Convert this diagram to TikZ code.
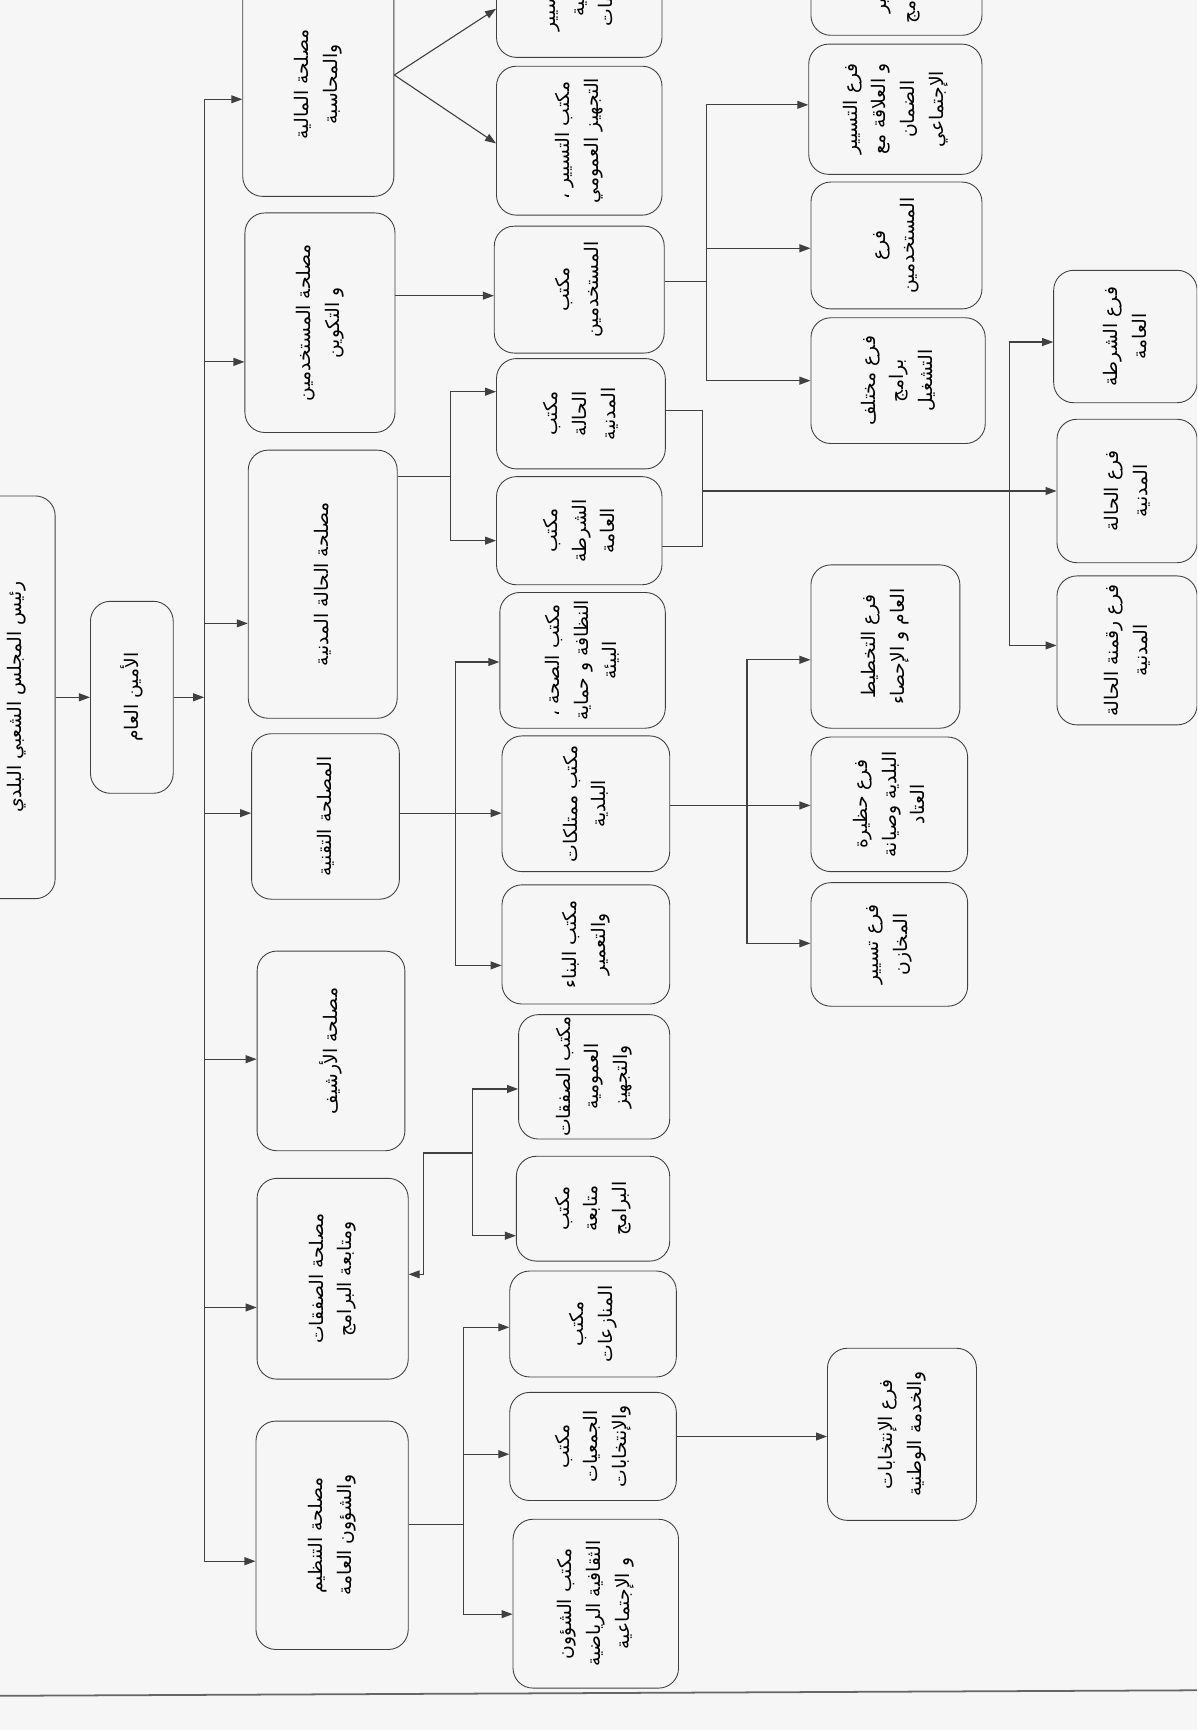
\documentclass[tikz,border=0pt]{standalone}
\usepackage{fontspec}
\newfontfamily\arabicfont[Script=Arabic]{DejaVu Sans}
\TeXXeTstate=1
\usetikzlibrary{arrows.meta}
\newcommand{\artxt}[1]{\beginR #1\endR}

\begin{document}
\begin{tikzpicture}[x=0.5pt, y=-0.5pt,
    box/.style 2 args={draw=black!75, rounded corners=9pt, rotate=90, align=center,
        minimum width=#2*0.5pt, minimum height=#1*0.5pt, inner sep=1pt,
        font=\arabicfont\fontsize{8.5}{13}\selectfont},
    link/.style={draw=black!75, line width=0.5pt},
    arr/.style={link, -{Triangle[length=5pt, width=3.6pt]}}
]
\useasboundingbox (0,0) rectangle (1085,1568);
\clip (0,0) rectangle (1085,1568);
\fill[gray!7] (0,0) rectangle (1085,1568);

% Head
\node[box={70}{365}] (chief) at (15,632) {\artxt{رئيس المجلس الشعبي البلدي}};
\node[box={75}{174}] (sg) at (119.5,632) {\artxt{الأمين العام}};
\coordinate (busTop) at (185,90);
\coordinate (busBot) at (185,1415);
\draw[arr] (chief.south) -- (chief.south -| sg.north);
\draw[arr] (sg.south) -- (sg.south -| busTop);
\draw[link] (busTop) -- (busBot);

% Services
\node[box={137}{203}] (srvFin) at (288.5,76.5) {\artxt{مصلحة المالية}\\\artxt{والمحاسبة}};
\node[box={136}{199}] (srvPers) at (290,292.5) {\artxt{مصلحة المستخدمين}\\\artxt{و التكوين}};
\node[box={135}{243}] (srvCiv) at (292.5,529.5) {\artxt{مصلحة الحالة المدنية}};
\node[box={134}{150}] (srvTech) at (295,740) {\artxt{المصلحة التقنية}};
\node[box={134}{181}] (srvArch) at (300,952.5) {\artxt{مصلحة الأرشيف}};
\node[box={137}{182}] (srvDeals) at (301.5,1159) {\artxt{مصلحة الصفقات}\\\artxt{ومتابعة البرامج}};
\node[box={138}{207}] (srvOrg) at (301,1391.5) {\artxt{مصلحة التنظيم}\\\artxt{والشؤون العامة}};

\draw[arr] (busTop |- 0,90) -- (srvFin.north |- 0,90);
\draw[arr] (busTop |- 0,328) -- (srvPers.north |- 0,328);
\draw[arr] (busTop |- 0,565) -- (srvCiv.north |- 0,565);
\draw[arr] (busTop |- 0,737) -- (srvTech.north |- 0,737);
\draw[arr] (busTop |- 0,960) -- (srvArch.north |- 0,960);
\draw[arr] (busTop |- 0,1185) -- (srvDeals.north |- 0,1185);
\draw[arr] (busTop |- 0,1415) -- (srvOrg.north |- 0,1415);

% Offices
\node[box={150}{132}] (offTop) at (525,-14) {\artxt{مكتب تسيير}\\\artxt{الميزانية}\\\artxt{والحسابات}};
\node[box={150}{135}] (offEquip) at (525,127.5) {\artxt{مكتب التسيير ،}\\\artxt{التجهيز العمومي}};
\node[box={154}{115}] (offPers) at (525,262.5) {\artxt{مكتب}\\\artxt{المستخدمين}};
\node[box={153}{100}] (offCiv) at (526.5,375) {\artxt{مكتب}\\\artxt{الحالة}\\\artxt{المدنية}};
\node[box={150}{98}] (offPol) at (525,481) {\artxt{مكتب}\\\artxt{الشرطة}\\\artxt{العامة}};
\node[box={150}{123}] (offHealth) at (528,598.5) {\artxt{مكتب الصحة ،}\\\artxt{النظافة و حماية}\\\artxt{البيئة}};
\node[box={152}{123}] (offProp) at (531,728.5) {\artxt{مكتب ممتلكات}\\\artxt{البلدية}};
\node[box={152}{108}] (offBuild) at (531,856) {\artxt{مكتب البناء}\\\artxt{والتعمير}};
\node[box={137}{108}] (offDeals) at (538.5,976) {\artxt{مكتب الصفقات}\\\artxt{العمومية}\\\artxt{والتجهيز}};
\node[box={139}{95}] (offFollow) at (537.5,1095.5) {\artxt{مكتب}\\\artxt{متابعة}\\\artxt{البرامج}};
\node[box={151}{96}] (offDisp) at (537.5,1200) {\artxt{مكتب}\\\artxt{المنازعات}};
\node[box={151}{98}] (offAssoc) at (537.5,1311) {\artxt{مكتب}\\\artxt{الجمعيات}\\\artxt{والإنتخابات}};
\node[box={150}{153}] (offCult) at (540,1453.5) {\artxt{مكتب الشؤون}\\\artxt{الثقافية الرياضية}\\\artxt{و الإجتماعية}};

\draw[arr] (srvFin.south |- 0,68) -- (offTop.north |- 0,8);
\draw[arr] (srvFin.south |- 0,68) -- (offEquip.north |- 0,130);
\draw[arr] (srvPers.south |- 0,268) -- (offPers.north |- 0,268);

\coordinate (civJ) at (408,432);
\draw[link] (srvCiv.south |- civJ) -- (civJ);
\draw[arr] (civJ) |- (offCiv.north |- 0,355);
\draw[arr] (civJ) |- (offPol.north |- 0,490);

\coordinate (techJ) at (413,737);
\draw[link] (srvTech.south |- techJ) -- (techJ);
\draw[arr] (techJ) |- (offHealth.north |- 0,600);
\draw[arr] (techJ) -- (offProp.north |- techJ);
\draw[arr] (techJ) |- (offBuild.north |- 0,875);

\coordinate (dealsJ) at (428,1045);
\draw[arr] (dealsJ) |- (offDeals.north |- 0,987);
\draw[arr] (dealsJ) |- (offFollow.north |- 0,1120);
\draw[arr] (dealsJ) -| (384,1155) -- (srvDeals.south |- 0,1155);

\coordinate (orgJ) at (420,1382);
\draw[link] (srvOrg.south |- orgJ) -- (orgJ);
\draw[arr] (orgJ) |- (offDisp.north |- 0,1203);
\draw[arr] (orgJ) |- (offAssoc.north |- 0,1318);
\draw[arr] (orgJ) |- (offCult.north |- 0,1463);

% Branches
\node[box={155}{122}] (brTop) at (812.5,-29) {\artxt{فرع التسيير}\\\artxt{المالي للبرامج}};
\node[box={157}{118}] (brSocial) at (811.5,99) {\artxt{فرع التسيير}\\\artxt{و العلاقة مع}\\\artxt{الضمان}\\\artxt{الإجتماعي}};
\node[box={155}{115}] (brStaff) at (812.5,222.5) {\artxt{فرع}\\\artxt{المستخدمين}};
\node[box={158}{114}] (brProg) at (814,345) {\artxt{فرع مختلف}\\\artxt{برامج}\\\artxt{التشغيل}};
\node[box={130}{120}] (brPolB) at (1020,305) {\artxt{فرع الشرطة}\\\artxt{العامة}};
\node[box={127}{130}] (brCivB) at (1021.5,445) {\artxt{فرع الحالة}\\\artxt{المدنية}};
\node[box={127}{135}] (brDigit) at (1021.5,589.5) {\artxt{فرع رقمنة الحالة}\\\artxt{المدنية}};
\node[box={135}{148}] (brPlan) at (802.5,586) {\artxt{فرع التخطيط}\\\artxt{العام و الإحصاء}};
\node[box={142}{122}] (brPark) at (806,729) {\artxt{فرع حظيرة}\\\artxt{البلدية وصيانة}\\\artxt{العتاد}};
\node[box={142}{112}] (brStore) at (806,856) {\artxt{فرع تسيير}\\\artxt{المخازن}};
\node[box={135}{156}] (brElect) at (817.5,1300) {\artxt{فرع الإنتخابات}\\\artxt{والخدمة الوطنية}};

\coordinate (persJ) at (640,255);
\draw[link] (offPers.south |- persJ) -- (persJ);
\draw[arr] (persJ) |- (brSocial.north |- 0,95);
\draw[arr] (persJ) |- (brStaff.north |- 0,225);
\draw[arr] (persJ) |- (brProg.north |- 0,345);

\coordinate (civK) at (637,445);
\coordinate (civL) at (915,445);
\draw[link] (offCiv.south |- 0,372) -| (civK) |- (offPol.south |- 0,495);
\draw[arr] (civK) -- (brCivB.north |- civK);
\draw[arr] (civL) |- (brPolB.north |- 0,310);
\draw[arr] (civL) |- (brDigit.north |- 0,585);

\coordinate (propJ) at (677,730);
\draw[link] (offProp.south |- propJ) -- (propJ);
\draw[arr] (propJ) |- (brPlan.north |- 0,598);
\draw[arr] (propJ) -- (brPark.north |- propJ);
\draw[arr] (propJ) |- (brStore.north |- 0,855);

\draw[arr] (offAssoc.south |- 0,1302) -- (brElect.north |- 0,1302);

% Page edge
\draw[black!60, line width=0.8pt] (0,1537) -- (1085,1532);

\end{tikzpicture}
\end{document}
